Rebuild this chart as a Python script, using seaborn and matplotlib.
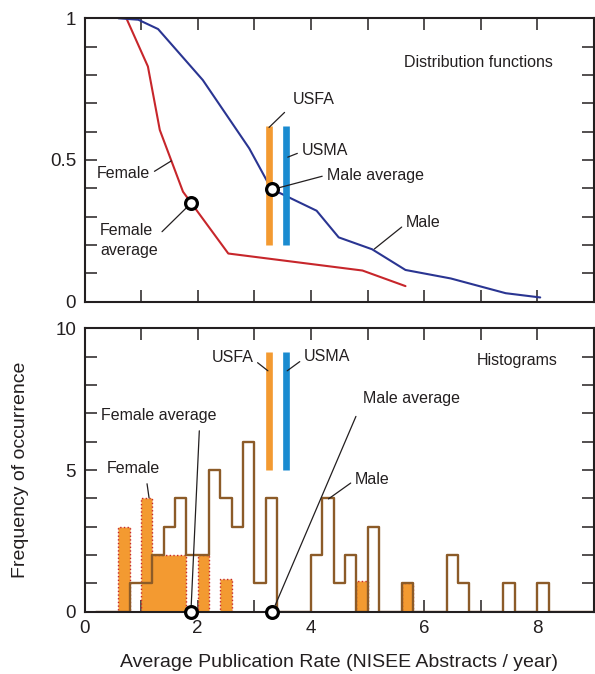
import numpy as np
import pandas as pd
import matplotlib
matplotlib.use("Agg")
import matplotlib.pyplot as plt
import seaborn as sns

# ---- data -------------------------------------------------------------
# Distribution functions: fraction of authors publishing above a given rate
female_rate = [0.74, 1.12, 1.33, 1.74, 2.54, 4.91, 5.67]
female_frac = [1.0, 0.83, 0.606, 0.388, 0.17, 0.11, 0.055]
male_rate = [0.60, 0.95, 1.30, 2.09, 2.91, 3.30, 4.10, 4.49, 5.08, 5.67, 6.47, 7.44, 8.05]
male_frac = [1.0, 0.995, 0.962, 0.782, 0.541, 0.398, 0.321, 0.227, 0.185, 0.112, 0.082, 0.03, 0.015]

# Averages and academy reference rates
female_avg = 1.88
female_avg_frac = 0.347
male_avg = 3.32
male_avg_frac = 0.396
usfa_rate = 3.26
usma_rate = 3.56

# Histograms: counts in 0.2-wide bins starting at 0.2
bin_start = 0.2
bin_width = 0.2
male_counts = [0, 0, 0, 1, 1, 2, 3, 4, 2, 2, 5, 4, 3, 6, 1, 4, 0, 0, 0, 2,
               4, 1, 2, 0, 3, 0, 0, 1, 0, 0, 0, 2, 1, 0, 0, 0, 1, 0, 0, 1,
               0, 0, 0, 0]
female_counts = [0, 0, 3, 0, 4, 2, 2, 2, 0, 2, 0, 1.15, 0, 0, 0, 0, 0, 0, 0, 0,
                 0, 0, 0, 1.1, 0, 0, 0, 1]

x_ticks = [0, 1, 2, 3, 4, 5, 6, 7, 8, 9]
x_ticklabels = ["0", "", "2", "", "4", "", "6", "", "8", ""]
top_yticks = [0, 0.1, 0.2, 0.3, 0.4, 0.5, 0.6, 0.7, 0.8, 0.9, 1.0]
top_yticklabels = ["0", "", "", "", "", "0.5", "", "", "", "", "1"]
bot_yticks = [0, 1, 2, 3, 4, 5, 6, 7, 8, 9, 10]
bot_yticklabels = ["0", "", "", "", "", "5", "", "", "", "", "10"]

# ---- style ------------------------------------------------------------
sns.set_theme(style="ticks")
plt.rcParams["font.family"] = ["Liberation Sans", "DejaVu Sans"]
INK = "#231F20"
RED = "#C7262B"
BLUE = "#2A3592"
ORANGE = "#F39A31"
SKY = "#1A8BD0"
BROWN = "#8C5B28"
plt.rcParams.update({
    "text.color": INK, "axes.labelcolor": INK, "axes.edgecolor": INK,
    "xtick.color": INK, "ytick.color": INK,
})

fig = plt.figure(figsize=(5.95, 6.74), dpi=100)
ax1 = fig.add_axes([84.5 / 595, 1 - 301.7 / 674, 509.5 / 595, 283.4 / 674])
ax2 = fig.add_axes([84.5 / 595, 1 - 611.7 / 674, 509.5 / 595, 283.4 / 674])

# ---- distribution functions -------------------------------------------
dist = pd.concat([
    pd.DataFrame({"rate": female_rate, "frac": female_frac, "group": "Female"}),
    pd.DataFrame({"rate": male_rate, "frac": male_frac, "group": "Male"}),
])
sns.lineplot(data=dist, x="rate", y="frac", hue="group", sort=False,
             estimator=None, palette={"Female": RED, "Male": BLUE},
             linewidth=1.5, legend=False, ax=ax1)

ax1.vlines([usfa_rate, usma_rate], 0.2, 0.62, colors=[ORANGE, SKY], linewidth=4.8, zorder=3)
ax1.plot([female_avg, male_avg], [female_avg_frac, male_avg_frac], "o", ms=8.5,
         mfc="white", mec="black", mew=2.3, zorder=5)

# ---- histograms -------------------------------------------------------
f_edges = [round(bin_start + bin_width * i, 6) for i in range(len(female_counts) + 1)]
m_edges = [round(bin_start + bin_width * i, 6) for i in range(len(male_counts) + 1)]
female_df = pd.DataFrame({"rate": [e + bin_width / 2 for e in f_edges[:-1]],
                          "count": female_counts})
male_df = pd.DataFrame({"rate": [e + bin_width / 2 for e in m_edges[:-1]],
                        "count": male_counts})
sns.histplot(data=female_df, x="rate", weights="count", bins=f_edges,
             element="step", fill=True, color=ORANGE, edgecolor=RED, alpha=1,
             linestyle=":", linewidth=1.0, ax=ax2)
sns.histplot(data=male_df, x="rate", weights="count", bins=m_edges,
             element="step", fill=False, color=BROWN, linewidth=1.7, ax=ax2)

ax2.vlines([usfa_rate, usma_rate], 5, 9.15, colors=[ORANGE, SKY], linewidth=4.8, zorder=3)
ax2.plot([female_avg, male_avg], [0, 0], "o", ms=8.5, mfc="white", mec="black",
         mew=2.3, zorder=6, clip_on=False)

# ---- axes -------------------------------------------------------------
for ax in (ax1, ax2):
    ax.set_xlim(0, 9)
    ax.set_xticks(x_ticks)
    ax.tick_params(direction="in", top=True, right=True, length=8.4, width=1.1,
                   labelsize=13.5, pad=6)
    for sp in ax.spines.values():
        sp.set_linewidth(1.5)
        sp.set_visible(True)

ax1.set_ylim(0, 1)
ax1.set_yticks(top_yticks)
ax1.set_yticklabels(top_yticklabels)
ax1.set_xticklabels([])
ax1.set_xlabel("")
ax1.set_ylabel("")

ax2.set_ylim(0, 10)
ax2.set_yticks(bot_yticks)
ax2.set_yticklabels(bot_yticklabels)
ax2.set_xticklabels(x_ticklabels)
ax2.set_xlabel("Average Publication Rate (NISEE Abstracts / year)", fontsize=14, labelpad=12)
ax2.set_ylabel("Frequency of occurrence", fontsize=14, labelpad=19)

# ---- labels -----------------------------------------------------------
FS = 11.5
lead = dict(arrowstyle="-", color=INK, lw=0.9)


def note(ax, text, xy, xytext, ha="left", va="center", relpos=(0, 0.5), shrinkA=2, shrinkB=0, **kw):
    props = dict(lead, relpos=relpos, shrinkA=shrinkA, shrinkB=shrinkB)
    ax.annotate(text, xy=xy, xytext=xytext, ha=ha, va=va, fontsize=FS,
                arrowprops=props, annotation_clip=False, **kw)


ax1.text(6.95, 0.845, "Distribution functions", ha="center", va="center", fontsize=FS)
note(ax1, "USFA", (usfa_rate, 0.615), (3.68, 0.712), relpos=(0, 0.2), shrinkA=5)
note(ax1, "USMA", (usma_rate + 0.03, 0.51), (3.84, 0.535), relpos=(0, 0.4), shrinkA=1)
note(ax1, "Male average", (male_avg, male_avg_frac), (4.28, 0.447), relpos=(0, 0.5),
     shrinkA=1, shrinkB=5)
note(ax1, "Male", (5.12, 0.186), (5.68, 0.281), relpos=(0, 0.4), shrinkA=1)
note(ax1, "Female", (1.535, 0.497), (1.157, 0.453), ha="right", relpos=(1, 0.45), shrinkA=1)
note(ax1, "Female\naverage", (female_avg, female_avg_frac), (0.274, 0.216),
     relpos=(0.95, 0.55), shrinkA=1, shrinkB=5, linespacing=1.45)

ax2.text(7.64, 8.88, "Histograms", ha="center", va="center", fontsize=FS)
note(ax2, "USFA", (usfa_rate - 0.02, 8.5), (2.98, 8.96), ha="right", relpos=(1, 0.4), shrinkA=1)
note(ax2, "USMA", (usma_rate + 0.02, 8.5), (3.88, 8.99), relpos=(0, 0.4), shrinkA=1)
note(ax2, "Female average", (female_avg, 0), (0.30, 6.91), relpos=(0.85, 0),
     shrinkA=3, shrinkB=5)
note(ax2, "Female", (1.14, 4.02), (0.39, 5.04), relpos=(0.74, 0), shrinkA=3)
note(ax2, "Male average", (male_avg, 0), (4.92, 7.53), relpos=(0, 0.4),
     shrinkA=7, shrinkB=5)
note(ax2, "Male", (4.31, 3.98), (4.78, 4.65), relpos=(0, 0.5), shrinkA=1)

fig.savefig("out.png", dpi=100)
